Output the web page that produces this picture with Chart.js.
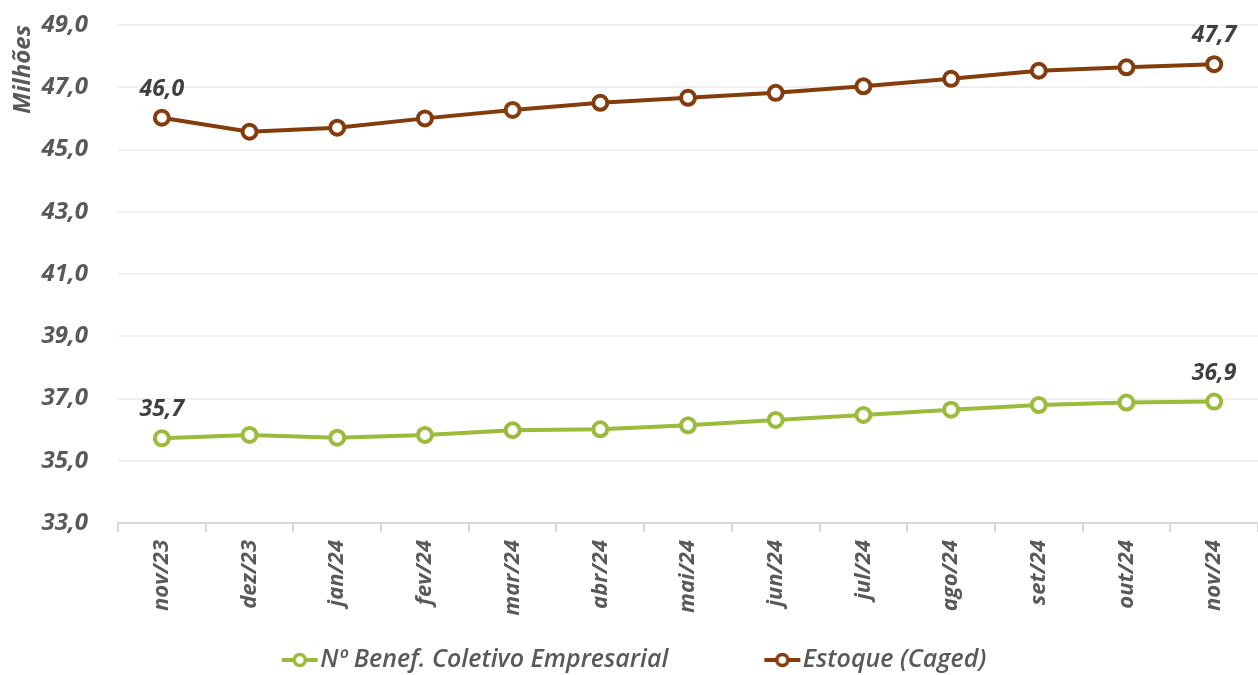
<!DOCTYPE html>
<html>
<head>
<meta charset="utf-8">
<script src="https://cdn.jsdelivr.net/npm/chart.js@4"></script>
<style>
html,body{margin:0;padding:0;background:#fff;}
#wrap{width:1258px;height:675px;position:relative;}
</style>
</head>
<body>
<div id="wrap"><canvas id="c" width="1258" height="675"></canvas></div>
<script>
const categories = ['nov/23','dez/23','jan/24','fev/24','mar/24','abr/24','mai/24','jun/24','jul/24','ago/24','set/24','out/24','nov/24'];
const benefColetivo = [35.72, 35.83, 35.74, 35.83, 35.98, 36.01, 36.14, 36.31, 36.47, 36.64, 36.79, 36.87, 36.90];
const estoqueCaged = [46.02, 45.57, 45.70, 46.00, 46.27, 46.50, 46.66, 46.82, 47.03, 47.27, 47.53, 47.64, 47.74];
const seriesNames = ['Nº Benef. Coletivo Empresarial', 'Estoque (Caged)'];
const yMin = 33, yMax = 49, yStep = 2;
const yTitle = 'Milhões';

const GREEN = '#9BBB3C';
const BROWN = '#843C0C';
const FONT = '"Open Sans", "DejaVu Sans", sans-serif';
const LEGEND_FONT = 25, LEGEND_PAD = 12;
const LEGEND_SHIFT_X = -37, LEGEND_SHIFT_Y = 7.5;

function fmt(v){ return v.toFixed(1).replace('.', ','); }

// legend marker: transparent lead-in on the left gives the gap between items
function legendMarker(color){
  const cv = document.createElement('canvas');
  cv.width = 132; cv.height = 20;
  const g = cv.getContext('2d');
  g.strokeStyle = color; g.lineWidth = 4;
  g.beginPath(); g.moveTo(95, 10); g.lineTo(131, 10); g.stroke();
  g.beginPath(); g.arc(113, 10, 5.5, 0, Math.PI*2);
  g.fillStyle = '#fff'; g.fill();
  g.lineWidth = 3.5; g.stroke();
  return cv;
}
const markers = [legendMarker(GREEN), legendMarker(BROWN)];

const endLabels = {
  id: 'endLabels',
  afterLayout(chart){
    const lg = chart.legend;
    if (lg) {
      lg.top += LEGEND_SHIFT_Y; lg.bottom += LEGEND_SHIFT_Y;
      lg.left += LEGEND_SHIFT_X; lg.right += LEGEND_SHIFT_X;
    }
  },
  afterDatasetsDraw(chart){
    const ctx = chart.ctx;
    ctx.save();
    ctx.font = 'italic 700 23px ' + FONT;
    ctx.fillStyle = '#404040';
    ctx.textAlign = 'center';
    ctx.textBaseline = 'alphabetic';
    chart.data.datasets.forEach((ds, di) => {
      const meta = chart.getDatasetMeta(di);
      [0, ds.data.length - 1].forEach(i => {
        const p = meta.data[i];
        ctx.fillText(fmt(ds.data[i]), p.x, p.y - 22);
      });
    });
    ctx.restore();
  }
};

const ptStyle = (color) => ({
  borderColor: color,
  backgroundColor: color,
  borderWidth: 4,
  pointRadius: 7,
  pointHoverRadius: 7,
  pointBackgroundColor: '#fff',
  pointBorderColor: color,
  pointBorderWidth: 4,
  tension: 0,
  clip: false
});

new Chart(document.getElementById('c'), {
  type: 'line',
  data: {
    labels: categories,
    datasets: [
      Object.assign({ label: seriesNames[0], data: benefColetivo }, ptStyle(GREEN)),
      Object.assign({ label: seriesNames[1], data: estoqueCaged }, ptStyle(BROWN))
    ]
  },
  options: {
    responsive: false,
    animation: false,
    devicePixelRatio: 1,
    layout: { autoPadding: false, padding: { top: 25, right: 0, bottom: 0, left: 0 } },
    plugins: {
      tooltip: { enabled: false },
      legend: {
        position: 'bottom',
        labels: {
          usePointStyle: true,
          pointStyleWidth: 110,
          padding: LEGEND_PAD,
          color: '#595959',
          font: { family: FONT, size: LEGEND_FONT, style: 'italic', weight: '600' },
          generateLabels(chart){
            const items = Chart.defaults.plugins.legend.labels.generateLabels(chart);
            items.forEach((it, i) => { it.pointStyle = markers[i]; it.fontColor = '#595959'; });
            return items;
          }
        }
      }
    },
    scales: {
      x: {
        offset: true,
        grid: { display: true, drawOnChartArea: false, offset: true, tickLength: 9, color: '#d9d9d9', lineWidth: 2 },
        border: { display: true, color: '#d9d9d9', width: 2 },
        ticks: {
          maxRotation: 90, minRotation: 90, padding: 8, autoSkip: false,
          color: '#595959',
          font: { family: FONT, size: 22, style: 'italic', weight: '700' }
        },
        afterFit(s){ s.height = 105; s.paddingLeft = 0; s.paddingRight = 0; }
      },
      y: {
        min: yMin, max: yMax,
        grid: { color: '#f0f0f0', lineWidth: 2, drawTicks: false },
        border: { display: false },
        ticks: {
          stepSize: yStep, padding: 30,
          color: '#595959',
          font: { family: FONT, size: 24, style: 'italic', weight: '700' },
          callback: (v) => fmt(v)
        },
        title: {
          display: true, text: yTitle, align: 'end',
          color: '#595959',
          font: { family: FONT, size: 24, style: 'italic', weight: '700' },
          padding: { top: 9, bottom: 0 }
        },
        afterFit(s){ s.width = 118; s.paddingTop = 0; s.paddingBottom = 0; }
      }
    }
  },
  plugins: [endLabels]
});
</script>
</body>
</html>
